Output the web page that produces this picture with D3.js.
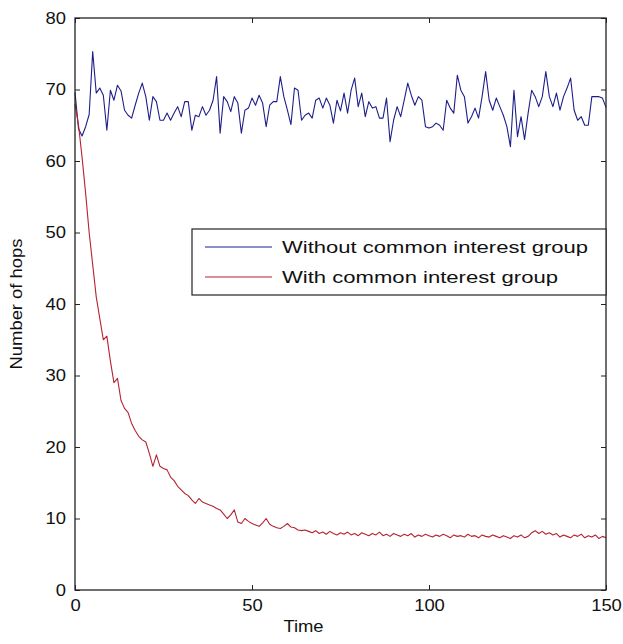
<!DOCTYPE html>
<html><head><meta charset="utf-8">
<script src="https://cdn.jsdelivr.net/npm/d3@7"></script>
<style>
html,body{margin:0;padding:0;background:#fff;}
svg text{font-family:"Liberation Sans",Arial,Helvetica,sans-serif;fill:#111;}
</style></head>
<body>
<svg id="c" width="623" height="644"></svg>
<script>
// ---- data ----
const times = d3.range(0, 151);
const withoutGroup = [
69.6,64.5,63.5,64.8,66.5,75.3,69.5,70.2,69.2,64.3,
69.9,68.5,70.6,69.8,67.1,66.4,66.0,67.8,69.5,70.9,
69.0,65.7,69.0,68.3,65.7,65.7,66.7,65.7,66.7,67.6,
66.2,68.3,68.3,64.3,66.4,66.2,67.6,66.4,67.1,68.5,
71.8,63.9,69.0,68.3,66.9,69.0,68.1,63.9,67.1,67.4,
68.8,67.8,69.2,68.1,64.8,67.8,68.3,68.3,71.8,69.0,
67.1,65.1,70.2,69.9,65.7,66.4,66.7,66.0,68.5,68.8,
67.4,68.8,67.8,65.3,68.5,67.0,69.5,66.7,69.9,71.6,
67.6,69.5,66.2,68.3,67.4,67.6,66.0,66.0,68.8,62.7,
65.7,67.6,66.2,68.5,70.9,69.2,67.8,69.0,68.5,64.8,
64.6,64.8,65.3,65.0,64.3,68.5,67.4,66.7,72.0,69.9,
69.0,65.3,66.2,67.4,66.0,69.0,72.5,68.5,67.1,68.8,
67.6,66.4,64.8,62.0,69.9,63.4,66.2,63.0,66.7,69.9,
69.0,67.6,69.0,72.5,69.0,67.6,69.5,67.1,69.0,70.2,
71.6,67.1,65.7,66.2,65.0,65.0,69.0,69.0,69.0,68.8,
67.5];
const withGroup = [
68,65,60.5,55.5,50,45.5,41,38,35,35.5,
32,29,29.6,26.5,25.4,24.8,23.3,22.3,21.5,21,
20.7,19.1,17.3,18.9,17.3,17,16.8,15.8,15.3,14.5,
14,13.5,13.2,12.6,12.1,12.8,12.3,12.1,11.9,11.7,
11.4,11.2,10.6,10.0,10.5,11.2,9.5,9.3,10.0,9.6,
9.3,9.1,8.9,9.4,10.0,9.2,8.9,8.7,8.6,8.9,
9.3,8.8,8.7,8.4,8.3,8.4,8.2,8.0,8.3,7.9,
8.1,7.8,8.2,7.9,7.7,8.0,7.8,8.1,7.7,7.9,
7.6,8.0,7.8,7.6,7.9,7.7,8.1,7.6,7.8,7.5,
7.9,7.7,7.5,7.8,7.6,7.9,7.4,7.7,7.5,7.8,
7.6,7.4,7.7,7.5,7.8,7.6,7.3,7.7,7.5,7.6,
7.4,7.8,7.5,7.6,7.3,7.7,7.5,7.4,7.7,7.5,
7.3,7.6,7.4,7.2,7.6,7.4,7.7,7.3,7.5,8.0,
8.3,7.9,8.2,7.8,8.0,7.7,7.9,7.4,7.7,7.5,
7.3,7.7,7.5,7.8,7.3,7.6,7.4,7.7,7.2,7.5,
7.3];
const xTicks = [0, 50, 100, 150];
const yTicks = [0, 10, 20, 30, 40, 50, 60, 70, 80];
const seriesNames = ["Without common interest group", "With common interest group"];
const seriesColors = ["#1e1e8a", "#b42330"];

// ---- layout ----
const L = 75, R = 606, T = 18, B = 590;
const svg = d3.select("#c");
const x = d3.scaleLinear().domain([0, 150]).range([L, R]);
const y = d3.scaleLinear().domain([0, 80]).range([B, T]);
const FS = 16;

function stretch(sel, k) {
  sel.each(function () {
    const w = this.getComputedTextLength();
    d3.select(this).attr("textLength", w * k).attr("lengthAdjust", "spacingAndGlyphs");
  });
}

// white plot area
svg.append("rect").attr("x", L).attr("y", T).attr("width", R - L).attr("height", B - T).attr("fill", "#fff");

// lines
const line = d3.line().x((d, i) => x(times[i])).y(d => y(d));
[withoutGroup, withGroup].forEach((s, i) => {
  svg.append("path").datum(s).attr("d", line).attr("fill", "none")
    .attr("stroke", seriesColors[i]).attr("stroke-width", 1.1).attr("stroke-linejoin", "round");
});

// axes
const ax = svg.append("g").attr("transform", `translate(0,${B})`)
  .call(d3.axisBottom(x).tickValues(xTicks).tickSizeInner(-5).tickSizeOuter(0).tickPadding(10));
const ay = svg.append("g").attr("transform", `translate(${L},0)`)
  .call(d3.axisLeft(y).tickValues(yTicks).tickSizeInner(-5).tickSizeOuter(0).tickPadding(9));
svg.append("g").attr("transform", `translate(0,${T})`)
  .call(d3.axisTop(x).tickValues(xTicks).tickSizeInner(-5).tickSizeOuter(0).tickFormat(""));
svg.append("g").attr("transform", `translate(${R},0)`)
  .call(d3.axisRight(y).tickValues(yTicks).tickSizeInner(-5).tickSizeOuter(0).tickFormat(""));
svg.selectAll(".domain").remove();
svg.selectAll(".tick line").attr("stroke", "#222").attr("stroke-width", 1);
svg.selectAll(".tick text").attr("font-size", FS).attr("font-family", "Liberation Sans, Arial, sans-serif").attr("fill", "#111");
stretch(ax.selectAll(".tick text"), 1.15);
stretch(ay.selectAll(".tick text"), 1.15);

// box
svg.append("rect").attr("x", L).attr("y", T).attr("width", R - L).attr("height", B - T)
  .attr("fill", "none").attr("stroke", "#222").attr("stroke-width", 1.3);

// axis labels
const xl = svg.append("text").attr("x", (L + R) / 2 - 37).attr("y", 632).attr("text-anchor", "middle")
  .attr("font-size", FS).text("Time");
stretch(xl, 1.15);
const yl = svg.append("text").attr("transform", `translate(22,${(T + B) / 2}) rotate(-90)`)
  .attr("text-anchor", "middle").attr("font-size", FS).text("Number of hops");
stretch(yl, 1.15);

// legend
const lg = svg.append("g");
lg.append("rect").attr("x", 192).attr("y", 229).attr("width", 414).attr("height", 66)
  .attr("fill", "#fff").attr("stroke", "#222").attr("stroke-width", 1.2);
seriesNames.forEach((n, i) => {
  const yy = 247 + i * 30;
  lg.append("line").attr("x1", 205).attr("x2", 272).attr("y1", yy).attr("y2", yy)
    .attr("stroke", seriesColors[i]).attr("stroke-width", 1.1);
  const t = lg.append("text").attr("x", 282).attr("y", yy).attr("dy", "0.35em")
    .attr("font-size", 17).text(n);
  t.attr("textLength", i === 0 ? 306 : 276).attr("lengthAdjust", "spacingAndGlyphs");
});
</script>
</body></html>
